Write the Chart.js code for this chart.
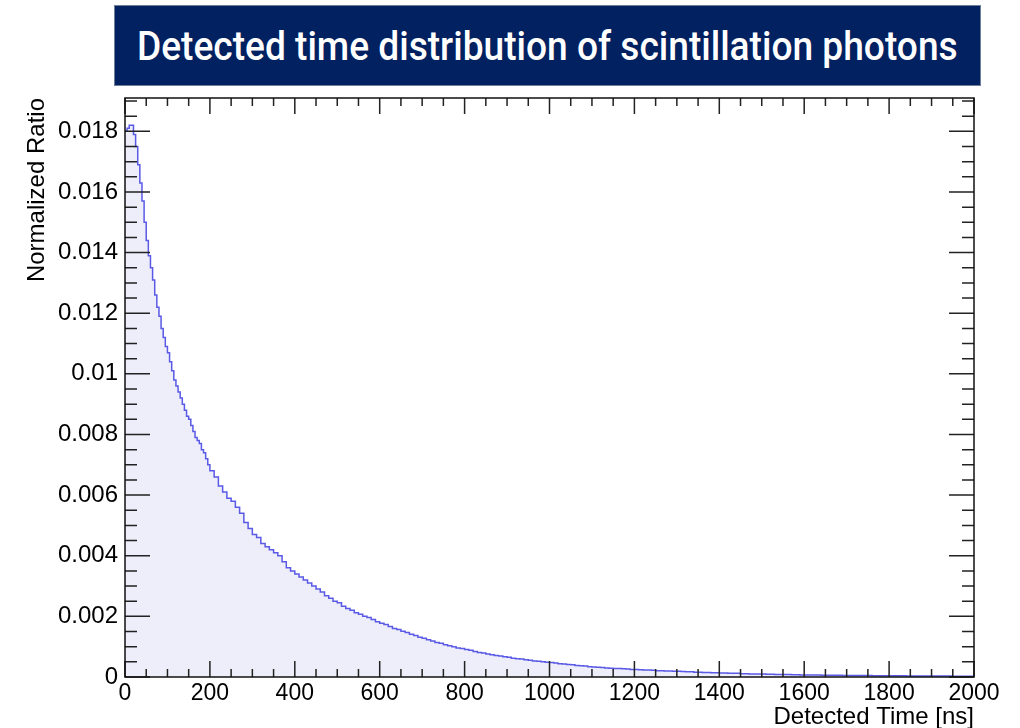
<!DOCTYPE html>
<html>
<head>
<meta charset="utf-8">
<script src="https://cdn.jsdelivr.net/npm/chart.js@4"></script>
<style>
    html, body { margin: 0; padding: 0; background: #fff; }
    #wrap { position: relative; width: 1020px; height: 728px; }
    #banner {
        position: absolute; left: 114px; top: 5px; width: 865px; height: 79px;
        background: #022161; border: 1px solid #6f7f99;
        display: flex; align-items: center; justify-content: center; overflow: hidden;
    }
    #banner span {
        display: inline-block; color: #fff; white-space: nowrap;
        font-family: Roboto, "DejaVu Sans", sans-serif; font-size: 40px; font-weight: 500;
        transform-origin: center center; margin-top: 2px;
    }
    canvas { position: absolute; left: 0; top: 0; }
</style>
</head>
<body>
<div id="wrap">
    <canvas id="hist" width="1020" height="728"></canvas>
    <div id="banner"><span id="title">Detected time distribution of scintillation photons</span></div>
</div>
<script>
// 立ち上がり部分 (5 ns ビン, 0-200 ns)
const earlyBinWidth = 5;
const earlyRatio = [
    0.0180, 0.0181, 0.0182, 0.0182, 0.0179, 0.0175, 0.0169, 0.0163, 0.0157, 0.0150,
    0.0144, 0.0139, 0.0135, 0.0131, 0.0126, 0.0122, 0.0119, 0.0115, 0.0112, 0.0109,
    0.0107, 0.0104, 0.0101, 0.0098, 0.0096, 0.0094, 0.0092, 0.0090, 0.0088, 0.0086,
    0.0085, 0.0083, 0.0081, 0.0079, 0.0078, 0.0077, 0.0075, 0.0074, 0.0072, 0.0070
];

// 減衰部分 (10 ns ビン, 200-2000 ns)
const lateStart = 200;
const lateBinWidth = 10;
const lateRatio = [
    0.0068, 0.0066, 0.0063, 0.0061, 0.0059, 0.0058, 0.0056, 0.0054, 0.0051, 0.0049,
    0.0047, 0.0046, 0.0044, 0.0043, 0.0042, 0.0041, 0.0040, 0.0038, 0.0036, 0.0035,
    0.0034, 0.0033, 0.0032, 0.0031, 0.0030, 0.0029, 0.0028, 0.00268, 0.0026, 0.0025,
    0.00245, 0.00233, 0.00226, 0.0022, 0.00212, 0.00207, 0.0020, 0.00196, 0.0019, 0.00182,
    0.00177, 0.00173, 0.00167, 0.0016, 0.00157, 0.00151, 0.00147, 0.00141, 0.00137, 0.00131,
    0.00128, 0.00123, 0.00119, 0.00114, 0.00111, 0.00106, 0.00103, 0.0010, 0.00096, 0.00094,
    0.00091, 0.00088, 0.00084, 0.00081, 0.00079, 0.00076, 0.00073, 0.00071, 0.00069, 0.00067,
    0.00065, 0.00062, 0.0006, 0.00059, 0.00057, 0.00055, 0.00053, 0.00052, 0.0005, 0.00049,
    0.00048, 0.00046, 0.00044, 0.00043, 0.00041, 0.0004, 0.00038, 0.00037, 0.00036, 0.00034,
    0.00033, 0.00032, 0.00031, 0.0003, 0.00029, 0.00028, 0.00028, 0.00027, 0.00026, 0.00025,
    0.00025, 0.00024, 0.00023, 0.00023, 0.00022, 0.00021, 0.00021, 0.0002, 0.0002, 0.00019,
    0.00019, 0.00018, 0.00017, 0.00017, 0.00016, 0.00016, 0.00015, 0.00015, 0.00014, 0.00014,
    0.00013, 0.00013, 0.00012, 0.00012, 0.00012, 0.00011, 0.00011, 0.0001, 0.0001, 0.0001,
    0.000095, 0.00009, 0.00009, 0.000086, 0.000084, 0.00008, 0.000079, 0.000076, 0.000074, 0.00007,
    0.00007, 0.000067, 0.000066, 0.000063, 0.000061, 0.00006, 0.000058, 0.000057, 0.000055, 0.000053,
    0.000053, 0.00005, 0.000049, 0.000048, 0.000047, 0.000046, 0.000044, 0.000043, 0.000042, 0.000041,
    0.00004, 0.000039, 0.000038, 0.000038, 0.000036, 0.000035, 0.000035, 0.000034, 0.000033, 0.000032,
    0.000031, 0.000031, 0.00003, 0.000029, 0.000029, 0.000028, 0.000027, 0.000027, 0.000026, 0.000025
];

// 軸の設定
const xRange = [0, 2000];
const yRange = [0, 0.0191];
const xMajorStep = 200, xMinorStep = 50;
const yMajorStep = 0.002, yMinorStep = 0.0005;

// ビンの左端に点を置き、最後のビンの右端も追加
const points = [
    ...earlyRatio.map((v, i) => ({ x: i * earlyBinWidth, y: v })),
    ...lateRatio.map((v, i) => ({ x: lateStart + i * lateBinWidth, y: v }))
];
points.push({ x: lateStart + lateRatio.length * lateBinWidth, y: lateRatio[lateRatio.length - 1] });

// ROOT風の内向き目盛りと枠
const frameTicks = {
    id: 'frameTicks',
    afterDatasetsDraw(chart) {
        const { ctx, chartArea: a, scales: { x, y } } = chart;
        ctx.save();
        ctx.strokeStyle = '#222';
        ctx.lineWidth = 1.5;
        ctx.beginPath();
        for (let t = xRange[0]; t <= xRange[1]; t += xMinorStep) {
            const px = x.getPixelForValue(t);
            const len = t % xMajorStep === 0 ? 16 : 8;
            ctx.moveTo(px, a.bottom); ctx.lineTo(px, a.bottom - len);
            ctx.moveTo(px, a.top); ctx.lineTo(px, a.top + len);
        }
        for (let k = 0; k * yMinorStep <= yRange[1]; k++) {
            const py = y.getPixelForValue(k * yMinorStep);
            const len = k % 4 === 0 ? 25 : 12;
            ctx.moveTo(a.left, py); ctx.lineTo(a.left + len, py);
            ctx.moveTo(a.right, py); ctx.lineTo(a.right - len, py);
        }
        ctx.stroke();
        ctx.strokeStyle = '#111';
        ctx.strokeRect(a.left, a.top, a.right - a.left, a.bottom - a.top);
        ctx.restore();
    }
};

new Chart(document.getElementById('hist'), {
    type: 'line',
    data: {
        datasets: [{
            data: points,
            stepped: 'before',
            borderColor: '#5a5ae6',
            borderWidth: 1.5,
            backgroundColor: '#eeeefa',
            fill: 'origin',
            pointRadius: 0,
            tension: 0
        }]
    },
    options: {
        responsive: false,
        animation: false,
        layout: { padding: { left: 0, top: 98, right: 46, bottom: 0 } },
        plugins: { legend: { display: false }, tooltip: { enabled: false } },
        scales: {
            x: {
                type: 'linear',
                min: xRange[0],
                max: xRange[1],
                grid: { display: false, drawTicks: false },
                border: { display: false },
                ticks: {
                    stepSize: xMajorStep,
                    padding: 3,
                    color: '#000',
                    maxRotation: 0,
                    font: { family: '"Liberation Sans", Arial, sans-serif', size: 23 },
                    callback: v => String(v)
                },
                title: {
                    display: true,
                    text: 'Detected Time [ns]',
                    align: 'end',
                    color: '#000',
                    padding: { top: 0, bottom: 0 },
                    font: { family: '"Liberation Sans", Arial, sans-serif', size: 24, lineHeight: 0.9 }
                },
                afterFit(scale) { scale.height = 51; }
            },
            y: {
                min: yRange[0],
                max: yRange[1],
                grid: { display: false, drawTicks: false },
                border: { display: false },
                ticks: {
                    stepSize: yMajorStep,
                    includeBounds: false,
                    padding: 7,
                    color: '#000',
                    font: { family: '"Liberation Sans", Arial, sans-serif', size: 24 },
                    callback: v => String(+v.toFixed(3))
                },
                title: {
                    display: true,
                    text: 'Normalized Ratio',
                    align: 'end',
                    color: '#000',
                    padding: { top: 23, bottom: 0 },
                    font: { family: '"Liberation Sans", Arial, sans-serif', size: 24 }
                },
                afterFit(scale) { scale.width = 125; }
            }
        }
    },
    plugins: [frameTicks]
});

// タイトル文字幅をバナーに合わせる
const titleSpan = document.getElementById('title');
titleSpan.style.transform = `scaleX(${821 / titleSpan.offsetWidth})`;
</script>
</body>
</html>
